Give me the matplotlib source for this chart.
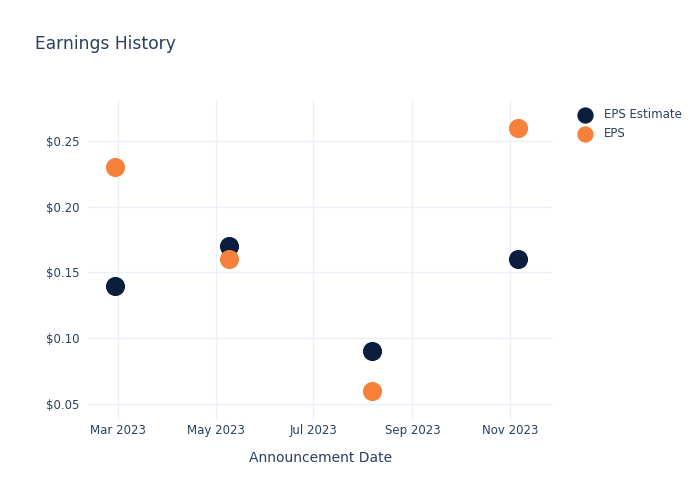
import matplotlib
matplotlib.use("Agg")
import matplotlib.pyplot as plt
from datetime import datetime

dates = ["2023-02-27", "2023-05-09", "2023-08-07", "2023-11-06"]
eps_estimate = [0.14, 0.17, 0.09, 0.16]
eps_actual = [0.23, 0.16, 0.06, 0.26]
tick_dates = ["2023-03-01", "2023-05-01", "2023-07-01", "2023-09-01", "2023-11-01"]
tick_labels = ["Mar 2023", "May 2023", "Jul 2023", "Sep 2023", "Nov 2023"]
y_ticks = [0.05, 0.10, 0.15, 0.20, 0.25]

text_color = "#2a3f5f"
grid_color = "#ebf0f8"
navy = "#0c1e3e"
orange = "#f7803a"

x = [datetime.strptime(d, "%Y-%m-%d") for d in dates]
xt = [datetime.strptime(d, "%Y-%m-%d") for d in tick_dates]

fig = plt.figure(figsize=(7, 5), dpi=100)
ax = fig.add_axes([88 / 700, 80 / 500, (553 - 88) / 700, 320 / 500])

ax.scatter(x, eps_estimate, s=190, color=navy, label="EPS Estimate", zorder=3, linewidths=0)
ax.scatter(x, eps_actual, s=190, color=orange, label="EPS", zorder=4, linewidths=0)

ax.set_xlim(datetime(2023, 2, 10), datetime(2023, 11, 28))
ax.set_ylim(0.0378, 0.2812)
ax.set_xticks(xt)
ax.set_xticklabels(tick_labels)
ax.set_yticks(y_ticks)
ax.set_yticklabels([f"${v:.2f}" for v in y_ticks])

ax.grid(True, color=grid_color, linewidth=1)
ax.set_axisbelow(True)
for s in ax.spines.values():
    s.set_visible(False)
ax.tick_params(length=0, labelsize=8.5, colors=text_color)
ax.tick_params(axis="x", pad=3)
ax.tick_params(axis="y", pad=6)

ax.set_xlabel("Announcement Date", fontsize=10, color=text_color, labelpad=10)

fig.text(35 / 700, 1 - 44 / 500, "Earnings History", fontsize=12.3, color=text_color, va="center")

leg = ax.legend(loc="upper left", bbox_to_anchor=(1.02, 1.008), frameon=False,
                fontsize=8.5, labelcolor=text_color, handletextpad=0.6,
                markerscale=0.85, labelspacing=0.5)

fig.savefig("out.png", dpi=100)
